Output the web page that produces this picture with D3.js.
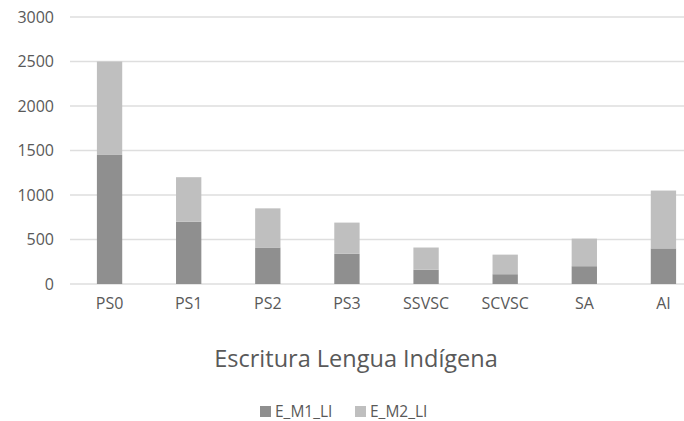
<!DOCTYPE html>
<html>
<head>
<meta charset="utf-8">
<script src="https://cdn.jsdelivr.net/npm/d3@7"></script>
<style>
  html, body { margin: 0; padding: 0; background: #fff; }
  svg { display: block; }
  text { font-family: "Open Sans", sans-serif; fill: #595959; }
</style>
</head>
<body>
<svg id="chart" width="684" height="421"></svg>
<script>
const categories = ["PS0", "PS1", "PS2", "PS3", "SSVSC", "SCVSC", "SA", "AI"];
const seriesNames = ["E_M1_LI", "E_M2_LI"];
const m1Values = [1450, 700, 410, 340, 160, 110, 200, 400];
const m2Values = [1050, 500, 440, 350, 250, 220, 310, 650];
const yTicks = [0, 500, 1000, 1500, 2000, 2500, 3000];
const colors = ["#8f8f8f", "#bfbfbf"];
const title = "Escritura Lengua Indígena";

const svg = d3.select("#chart");
const W = 684, H = 421;
const plot = { left: 70, right: 703, top: 17, bottom: 284 };

const x = d3.scaleBand().domain(categories).range([plot.left, plot.right]);
const y = d3.scaleLinear().domain([0, 3000]).range([plot.bottom, plot.top]);

const data = categories.map((c, i) => ({ cat: c, E_M1_LI: m1Values[i], E_M2_LI: m2Values[i] }));
const stacked = d3.stack().keys(seriesNames)(data);

// gridlines
svg.append("g").selectAll("line").data(yTicks).join("line")
  .attr("x1", plot.left).attr("x2", W)
  .attr("y1", d => y(d)).attr("y2", d => y(d))
  .attr("stroke", "#dedede").attr("stroke-width", 1.6);

// y axis labels
const yAxis = d3.axisLeft(y).tickValues(yTicks).tickFormat(d3.format("d")).tickSize(0).tickPadding(0);
const gy = svg.append("g").attr("transform", `translate(${plot.left - 16},0)`).call(yAxis);
gy.select(".domain").remove();
gy.selectAll("text").style("font-size", "16px").style("font-family", "Open Sans").attr("fill", "#595959");

// bars
const barW = x.bandwidth() * 0.32;
svg.append("g").selectAll("g").data(stacked).join("g")
  .attr("fill", (d, i) => colors[i])
  .selectAll("rect").data(d => d).join("rect")
  .attr("x", d => x(d.data.cat) + (x.bandwidth() - barW) / 2)
  .attr("width", barW)
  .attr("y", d => y(d[1]))
  .attr("height", d => y(d[0]) - y(d[1]));

// x axis labels
const xAxis = d3.axisBottom(x).tickSize(0).tickPadding(0);
const gx = svg.append("g").attr("transform", `translate(0,${plot.bottom + 14})`).call(xAxis);
gx.select(".domain").remove();
gx.selectAll("text").style("font-size", "16px").style("font-family", "Open Sans").attr("fill", "#595959");

// title
svg.append("text").attr("x", 356).attr("y", 367)
  .attr("text-anchor", "middle").style("font-size", "23.5px").text(title);

// legend
const legendX = [260, 355];
const lg = svg.append("g").selectAll("g").data(seriesNames).join("g")
  .attr("transform", (d, i) => `translate(${legendX[i]},406)`);
lg.append("rect").attr("width", 11).attr("height", 11).attr("fill", (d, i) => colors[i]);
lg.append("text").attr("x", 15).attr("y", 11).style("font-size", "15.5px").text(d => d);
</script>
</body>
</html>
